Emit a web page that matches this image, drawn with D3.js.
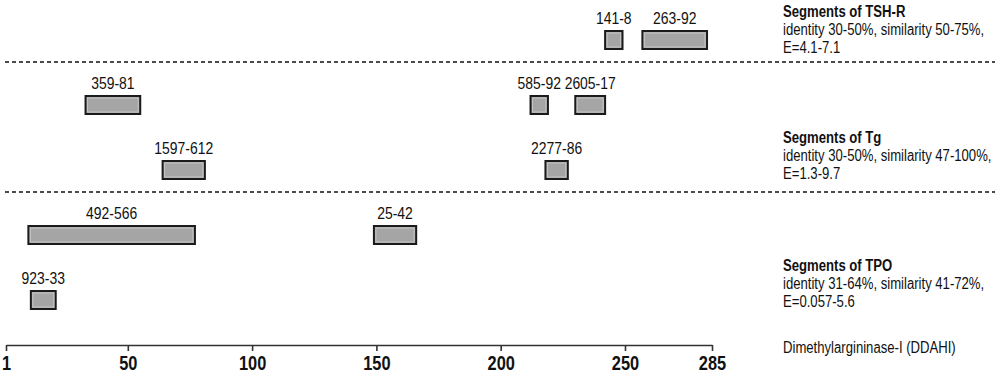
<!DOCTYPE html>
<html>
<head>
<meta charset="utf-8">
<script src="https://cdn.jsdelivr.net/npm/d3@7.9.0/dist/d3.min.js"></script>
<style>
  body { margin: 0; background: #fff; }
  svg { display: block; font-family: "Liberation Sans", Arial, sans-serif; }
</style>
</head>
<body>
<svg id="chart" width="1000" height="374"></svg>
<script>
// segments aligned on DDAHI (positions 1-285)
const segLabels = ['141-8', '263-92', '359-81', '585-92', '2605-17', '1597-612', '2277-86', '492-566', '25-42', '923-33'];
const segStart  = [242, 257, 33, 212, 230, 64, 218, 10, 149, 11];
const segEnd    = [249, 283, 55, 219, 242, 81, 227, 77, 166, 21];
const segRow    = [0, 0, 1, 1, 1, 2, 2, 3, 3, 4];

// protein groups and the rows they use
const groupNames    = ['Segments of TSH-R', 'Segments of Tg', 'Segments of TPO'];
const groupIdentity = ['identity 30-50%, similarity 50-75%,', 'identity 30-50%, similarity 47-100%,', 'identity 31-64%, similarity 41-72%,'];
const groupE        = ['E=4.1-7.1', 'E=1.3-9.7', 'E=0.057-5.6'];
const groupLastRow  = [0, 2, 4];

const axisTicks = [1, 50, 100, 150, 200, 250, 285];
const axisName = 'Dimethylargininase-I (DDAHI)';

// no Arial Narrow here, so squeeze Liberation Sans
const narrow = 'scale(0.82,1)';

const svg = d3.select('#chart');

let x = d3.scaleLinear().domain([1, 285]).range([6, 712]);
let y = d3.scalePoint().domain([0, 1, 2, 3, 4]).range([40, 300]);
const barH = 18;

// dashed separators between groups
groupLastRow.slice(0, 2).forEach((r) => {
    svg.append('line')
        .attr('x1', 5).attr('x2', 995)
        .attr('y1', y(r) + 22).attr('y2', y(r) + 22)
        .attr('stroke', '#111')
        .attr('stroke-width', 1.4)
        .attr('stroke-dasharray', '4,3');
});

// bars
const bars = svg.append('g');
segLabels.forEach((lab, i) => {
    let x0 = x(segStart[i]), x1 = x(segEnd[i]);
    let top = y(segRow[i]) - barH / 2;
    bars.append('rect')
        .attr('x', x0).attr('y', top)
        .attr('width', x1 - x0).attr('height', barH)
        .attr('fill', '#a5a5a5')
        .attr('stroke', '#1a1a1a')
        .attr('stroke-width', 2);
    bars.append('rect')
        .attr('x', x0 + 2).attr('y', top + 2)
        .attr('width', x1 - x0 - 4).attr('height', barH - 4)
        .attr('fill', 'none')
        .attr('stroke', '#c4c4c4')
        .attr('stroke-width', 1);
    bars.append('g')
        .attr('transform', `translate(${(x0 + x1) / 2},${top - 7})`)
        .append('text')
        .attr('transform', narrow)
        .attr('text-anchor', 'middle')
        .attr('font-size', 17)
        .attr('fill', '#111')
        .text(lab);
});

// axis
const axis = svg.append('g')
    .attr('transform', 'translate(0,345)')
    .call(d3.axisBottom(x).tickValues(axisTicks).tickFormat(d3.format('d')).tickSize(6).tickSizeOuter(0).tickPadding(5));
axis.select('.domain').attr('stroke', '#333').attr('stroke-width', 1.6);
axis.selectAll('.tick line').attr('stroke', '#333').attr('stroke-width', 1.6);
axis.selectAll('.tick text')
    .attr('transform', narrow)
    .attr('font-family', '"Liberation Sans", Arial, sans-serif')
    .attr('font-size', 20)
    .attr('font-weight', 'bold')
    .attr('fill', '#111');

// group legends on the right
const legX = 783;
const legY = [17, 143, 271];
groupNames.forEach((name, i) => {
    let g = svg.append('g').attr('transform', `translate(${legX},${legY[i]}) ${narrow}`);
    g.append('text').attr('font-size', 16).attr('font-weight', 'bold').attr('fill', '#111').text(name);
    g.append('text').attr('y', 18).attr('font-size', 16).attr('fill', '#111').text(groupIdentity[i]);
    g.append('text').attr('y', 36).attr('font-size', 16).attr('fill', '#111').text(groupE[i]);
});

svg.append('g')
    .attr('transform', `translate(${legX},353) ${narrow}`)
    .append('text')
    .attr('font-size', 16)
    .attr('fill', '#111')
    .text(axisName);
</script>
</body>
</html>
